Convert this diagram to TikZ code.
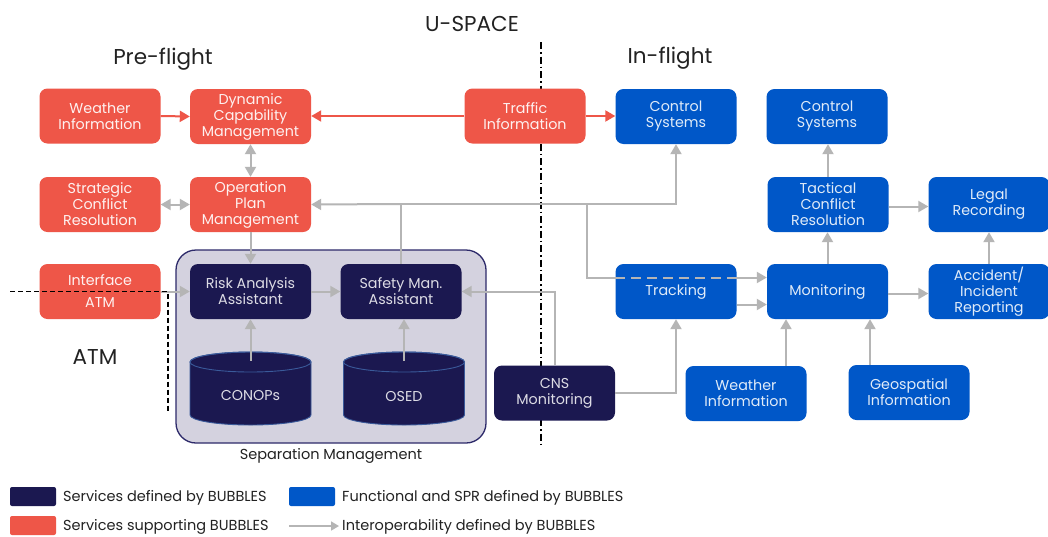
\documentclass[tikz,border=0pt]{standalone}
\usepackage{fontspec}
\setmainfont{Poppins}
\usetikzlibrary{arrows.meta}
\definecolor{redbox}{HTML}{EE5648}
\definecolor{bluebox}{HTML}{0057C8}
\definecolor{navybox}{HTML}{1B1850}
\definecolor{sepfill}{HTML}{D4D2DF}
\definecolor{sepdraw}{HTML}{2D2A6A}
\definecolor{cylline}{HTML}{3A5A9A}
\definecolor{conn}{HTML}{B5B5B5}
\definecolor{headtxt}{HTML}{222222}
\tikzset{
  box/.style={rectangle,rounded corners=8pt,minimum width=121pt,minimum height=55pt,
    align=center,inner sep=2pt,font=\fontsize{14.3}{16}\selectfont},
  redb/.style={box,fill=redbox,text=white!92!redbox},
  blueb/.style={box,fill=bluebox,text=white!88!bluebox},
  navyb/.style={box,fill=navybox,text=white!85!navybox},
  dbshape/.style={rectangle,minimum width=121pt,minimum height=73pt,inner sep=0pt},
  dbtext/.style={text=white!85!navybox,font=\fontsize{14.3}{16}\selectfont},
  dbbody/.style={fill=navybox,draw=cylline,line width=0.9pt},
  tip/.style={-{Triangle[length=10pt,width=11pt]}},
  garrow/.style={draw=conn,line width=2pt,tip},
  gdouble/.style={draw=conn,line width=2pt,{Triangle[length=10pt,width=11pt]}-{Triangle[length=10pt,width=11pt]}},
  gline/.style={draw=conn,line width=2pt},
  rarrow/.style={draw=redbox,line width=2pt,tip},
  heading/.style={text=headtxt,font=\fontsize{21.5}{24}\selectfont},
  legtxt/.style={text=headtxt,anchor=west,font=\fontsize{14.5}{16}\selectfont,inner sep=0pt},
  legbox/.style={rectangle,rounded corners=2pt,minimum width=46pt,minimum height=19pt,inner sep=0pt}
}
\begin{document}
\begin{tikzpicture}[x=1pt,y=-1pt]
\useasboundingbox[fill=white] (0,0) rectangle (1048,536);

% region headings and boundaries
\node[heading] (uspace) at (472,24) {U-SPACE};
\node[heading] (pre) at (163,59) {Pre-flight};
\node[heading] (inf) at (670,58) {In-flight};
\node[heading] (atm) at (95,357) {ATM};
\coordinate (divtop) at (541,42);
\coordinate (divbot) at (541,446);
\draw[black,line width=1.5pt,dash pattern=on 7pt off 3pt on 1.5pt off 3pt] (divtop) -- (divbot);

% separation management container
\node[rectangle,rounded corners=20pt,fill=sepfill,draw=sepdraw,line width=1.3pt,
  minimum width=310pt,minimum height=193pt] (sep) at (331,346.5) {};
\node[text=headtxt,font=\fontsize{14.5}{16}\selectfont] (seplbl) at (331,456) {Separation Management};

% pre-flight services
\node[redb] (wi) at (100,116) {Weather\\Information};
\node[redb] (dcm) at (250.5,116.5) {Dynamic\\Capability\\Management};
\node[redb] (ti) at (525,116) {Traffic\\Information};
\node[redb] (scr) at (100,204.5) {Strategic\\Conflict\\Resolution};
\node[redb] (opm) at (250.5,204.5) {Operation\\Plan\\Management};
\node[redb] (iatm) at (100,291.5) {Interface\\[6pt]ATM};

\node[navyb] (raa) at (250.5,291.5) {Risk Analysis\\Assistant};
\node[navyb] (sma) at (401,291.5) {Safety Man.\\Assistant};

% data stores
\foreach \cx/\nm/\lbl in {250.5/conops/CONOPs, 404/osed/OSED}{
  \path[dbbody] (\cx-60.5,362) -- (\cx-60.5,415)
    arc[start angle=180,end angle=360,x radius=60.5pt,y radius=10pt]
    -- (\cx+60.5,362) arc[start angle=0,end angle=180,x radius=60.5pt,y radius=10pt] -- cycle;
  \draw[cylline,line width=0.9pt] (\cx,362) ellipse[x radius=60.5pt,y radius=10pt];
  \node[dbshape] (\nm) at (\cx,388.5) {};
  \node[dbtext] (\nm-lbl) at (\cx,396) {\lbl};
}

\node[navyb] (cns) at (554.5,393) {CNS\\Monitoring};

% in-flight services
\node[blueb] (cs1) at (676,116.5) {Control\\Systems};
\node[blueb] (cs2) at (827,116.5) {Control\\Systems};
\node[blueb] (tcr) at (828,204.5) {Tactical\\Conflict\\Resolution};
\node[blueb] (lr) at (989,204.5) {Legal\\Recording};
\node[blueb] (trk) at (676,291.5) {Tracking};
\node[blueb] (mon) at (827.5,291.5) {Monitoring};
\node[blueb] (air) at (989,291.5) {Accident/\\Incident\\Reporting};
\node[blueb] (wib) at (746,393.5) {Weather\\Information};
\node[blueb] (geo) at (909,392.5) {Geospatial\\Information};

% red links
\draw[rarrow] (wi.east) -- (dcm.east -| dcm.west);
\draw[rarrow] (ti.west) -- (ti.west -| dcm.east);
\draw[rarrow] (ti.east) -- (ti.east -| cs1.west);

% grey links, pre-flight side
\draw[gdouble] (dcm.south) -- (opm.north);
\draw[gdouble] (scr.east) -- (opm.west);
\draw[garrow] (opm.south) -- (raa.north);
\draw[garrow] (iatm.east) -- (raa.west);
\draw[garrow] (raa.east) -- (sma.west);
\draw[garrow] ([yshift=-9pt]conops.north) -- (raa.south);
\draw[garrow] ([yshift=-9pt]osed.north) -- (osed.north |- sma.south);

% safety management feed to plan, control and monitoring
\coordinate (j1) at (401,204);
\coordinate (j2) at (587,204);
\draw[gline] (sma.north) -- (j1);
\draw[garrow] (j1) -- (opm.east);
\draw[garrow] (j1) -| (cs1.south);
\coordinate (t1) at ([yshift=14pt]trk.west);
\coordinate (t2) at ([yshift=14pt]trk.east);
\draw[gline] (j2) |- (t1);
\draw[garrow] (t2) -- (t2 -| mon.west);

% CNS monitoring links
\draw[garrow] (cns.north) |- (sma.east);
\draw[garrow] (cns.east) -| (trk.south);

% in-flight links
\draw[garrow] ([yshift=-13pt]trk.east) -- ([yshift=-13pt]mon.west);
\draw[garrow] (mon.north) -- (mon.north |- tcr.south);
\draw[garrow] (tcr.north) -- (tcr.north |- cs2.south);
\draw[garrow] ([yshift=-2pt]tcr.east) -- ([yshift=-2pt]tcr.east -| lr.west);
\draw[garrow] ([yshift=-2pt]mon.east) -- ([yshift=-2pt]mon.east -| air.west);
\draw[garrow] (air.north) -- (lr.south);
\draw[garrow] ([xshift=40pt]wib.north) -- ([xshift=40pt]wib.north |- mon.south);
\draw[garrow] ([xshift=-39pt]geo.north) -- ([xshift=-39pt]geo.north |- mon.south);

% path crossing over the tracking box
\draw[draw=conn,line width=2pt,dash pattern=on 10pt off 6pt] (t1) -- (t2);

% ATM boundary
\coordinate (a1) at (10,291.5);
\coordinate (a2) at (168,291.5);
\coordinate (a3) at (168,413);
\draw[black,line width=1.4pt,dash pattern=on 5pt off 3pt] (a1) -- (a2) -- (a3);

% legend
\node[legbox,fill=navybox] (lg1) at (33,496.5) {};
\node[legtxt] (lt1) at (63,497.5) {Services defined by BUBBLES};
\node[legbox,fill=redbox] (lg2) at (33,525.5) {};
\node[legtxt] (lt2) at (63,526.5) {Services supporting BUBBLES};
\node[legbox,fill=bluebox] (lg3) at (312,496.5) {};
\node[legtxt] (lt3) at (342,497.5) {Functional and SPR defined by BUBBLES};
\coordinate (lg4) at (289,526);
\draw[draw=conn,line width=1.6pt,-{Triangle[length=8pt,width=9pt]}] (lg4) -- ([xshift=-3pt]lt3.west |- lg4);
\node[legtxt] (lt4) at (342,526.5) {Interoperability defined by BUBBLES};
\end{tikzpicture}
\end{document}
